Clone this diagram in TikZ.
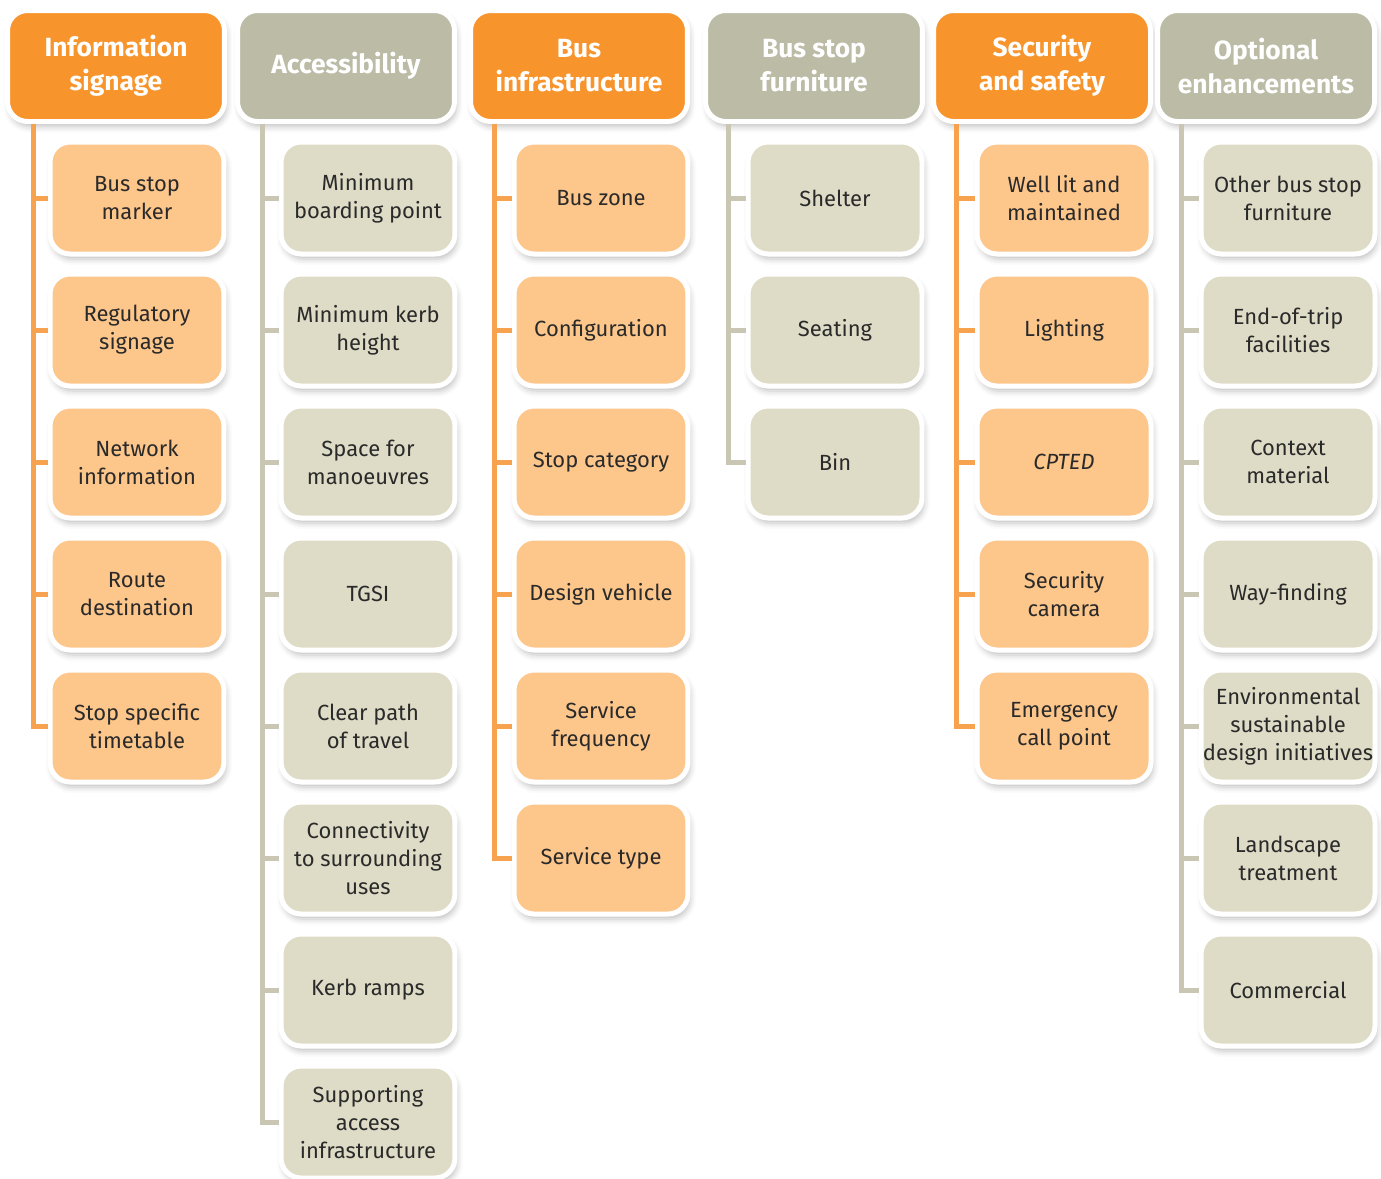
\documentclass[tikz,border=0pt]{standalone}
\usepackage{fontspec}
\setmainfont{Fira Sans}
\usetikzlibrary{calc,shadows.blur}
\definecolor{hdorange}{HTML}{F7942C}
\definecolor{lforange}{HTML}{FDC68B}
\definecolor{lnorange}{HTML}{F6A24E}
\definecolor{hdgray}{HTML}{BCBBA6}
\definecolor{lfgray}{HTML}{DEDCC6}
\definecolor{lngray}{HTML}{C9C7B3}
\definecolor{txtgray}{HTML}{2A2A2A}
\tikzset{%
  box/.style={draw=white,line width=0.1cm,rounded corners=0.4cm,
    align=center,inner sep=0pt,text=txtgray,
    blur shadow={shadow xshift=0.04cm,shadow yshift=-0.1cm,
      shadow blur radius=0.12cm,shadow opacity=25}},
  head/.style={box,minimum width=4.34cm,minimum height=2.22cm,
    text=white,font=\bfseries\fontsize{15}{19.3}\selectfont},
  leaf/.style={box,minimum width=3.48cm,minimum height=2.24cm,
    font=\fontsize{12.5}{15.9}\selectfont},
  branch/.style={line width=0.1cm}
}

\begin{document}
\begin{tikzpicture}[x=0.02cm,y=-0.02cm]
\useasboundingbox (0,0) rectangle (1381,1178);

%% information signage
\node[head,fill=hdorange] (h1) at (116,66) {Information\\signage};
\coordinate (t1) at ($(h1.south west)+(28,0)$);
\foreach \txt [count=\i] in {{Bus stop\\marker},{Regulatory\\signage},
    {Network\\information},{Route\\destination},{Stop specific\\timetable}}{
  \node[leaf,fill=lforange] (c1-\i) at (137,{198+132*(\i-1)}) {\txt};
  \draw[branch,lnorange] (t1) |- (c1-\i);
}

%% accessibility
\node[head,fill=hdgray] (h2) at (346,66) {Accessibility};
\coordinate (t2) at ($(h2.south west)+(27,0)$);
\foreach \txt [count=\i] in {{Minimum\\boarding point},{Minimum kerb\\height},
    {Space for\\manoeuvres},{TGSI},{Clear path\\of travel},
    {Connectivity\\to surrounding\\uses},{Kerb ramps},
    {Supporting\\access\\infrastructure}}{
  \node[leaf,fill=lfgray] (c2-\i) at (368,{198+132*(\i-1)}) {\txt};
  \draw[branch,lngray] (t2) |- (c2-\i);
}

%% bus infrastructure
\node[head,fill=hdorange] (h3) at (579,66) {Bus\\infrastructure};
\coordinate (t3) at ($(h3.south west)+(26,0)$);
\foreach \txt [count=\i] in {{Bus zone},{Configuration},{Stop category},
    {Design vehicle},{Service\\frequency},{Service type}}{
  \node[leaf,fill=lforange] (c3-\i) at (601,{198+132*(\i-1)}) {\txt};
  \draw[branch,lnorange] (t3) |- (c3-\i);
}

%% bus stop furniture
\node[head,fill=hdgray] (h4) at (814,66) {Bus stop\\furniture};
\coordinate (t4) at ($(h4.south west)+(25,0)$);
\foreach \txt [count=\i] in {{Shelter},{Seating},{Bin}}{
  \node[leaf,fill=lfgray] (c4-\i) at (835,{198+132*(\i-1)}) {\txt};
  \draw[branch,lngray] (t4) |- (c4-\i);
}

%% security and safety
\node[head,fill=hdorange] (h5) at (1042,66) {Security\\and safety};
\coordinate (t5) at ($(h5.south west)+(25,0)$);
\foreach \txt [count=\i] in {{Well lit and\\maintained},{Lighting},
    {\textit{CPTED}},{Security\\camera},{Emergency\\call point}}{
  \node[leaf,fill=lforange] (c5-\i) at (1064,{198+132*(\i-1)}) {\txt};
  \draw[branch,lnorange] (t5) |- (c5-\i);
}

%% optional enhancements
\node[head,fill=hdgray] (h6) at (1266,66) {Optional\\enhancements};
\coordinate (t6) at ($(h6.south west)+(26,0)$);
\foreach \txt [count=\i] in {{Other bus stop\\furniture},{End-of-trip\\facilities},
    {Context\\material},{Way-finding},
    {Environmental\\sustainable\\design initiatives},
    {Landscape\\treatment},{Commercial}}{
  \node[leaf,fill=lfgray] (c6-\i) at (1288,{198+132*(\i-1)}) {\txt};
  \draw[branch,lngray] (t6) |- (c6-\i);
}

\end{tikzpicture}
\end{document}
